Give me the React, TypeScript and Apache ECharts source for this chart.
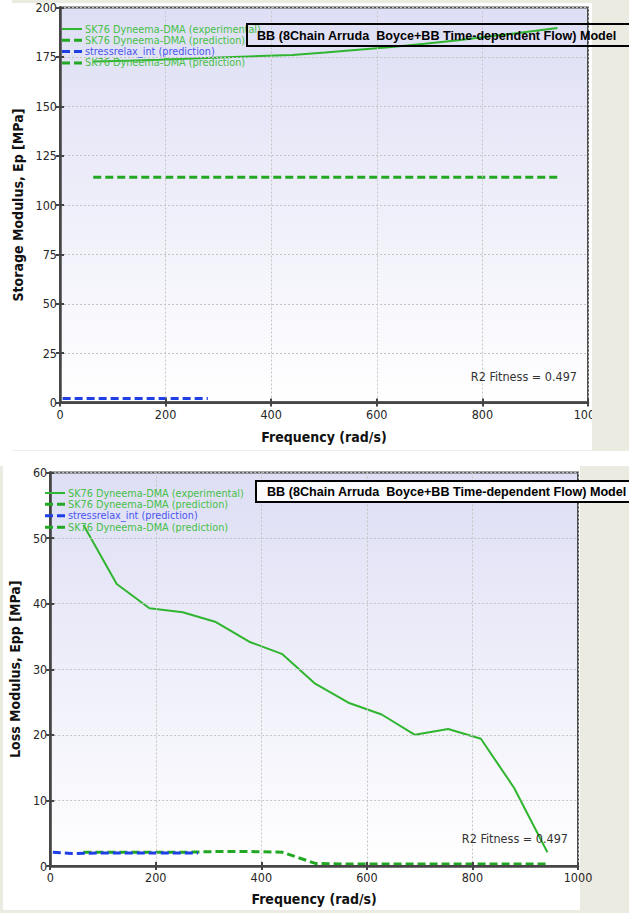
import React, { useEffect, useRef } from "react";
import * as echarts from "echarts";

// ---- data -------------------------------------------------------------
const frequency = [63, 126, 188, 251, 314, 377, 440, 502, 565, 628, 691, 754, 816, 879, 942];

const storageExperimental = [172.6, 173.1, 173.6, 174.2, 174.8, 175.4, 176.0, 177.2, 178.6, 180.0, 181.6, 183.4, 185.4, 187.5, 189.6];
const storagePrediction = [114, 114, 114, 114, 114, 114, 114, 114, 114, 114, 114, 114, 114, 114, 114];

const lossExperimental = [52.0, 43.0, 39.3, 38.7, 37.2, 34.2, 32.3, 27.8, 24.9, 23.1, 20.0, 20.9, 19.4, 11.9, 2.1];
const lossPrediction = [2.1, 2.1, 2.1, 2.1, 2.2, 2.2, 2.1, 0.4, 0.3, 0.3, 0.3, 0.3, 0.3, 0.3, 0.3];

const relaxFrequency = [5, 40, 100, 160, 220, 280];
const storageRelax = [2.0, 2.0, 2.0, 2.0, 2.0, 2.0];
const lossRelax = [2.1, 1.9, 2.0, 2.0, 2.0, 2.0];

const startFrequency = [0, 0];
const storageStart = [0, 4];
const lossStart = [0, 3];

const xTicks = { min: 0, max: 1000, interval: 200 };
const storageTicks = { min: 0, max: 200, interval: 25 };
const lossTicks = { min: 0, max: 60, interval: 10 };

const legendLabels = [
  "SK76 Dyneema-DMA (experimental)",
  "SK76 Dyneema-DMA (prediction)",
  "stressrelax_int (prediction)",
  "SK76 Dyneema-DMA (prediction)",
];
const modelTitle = "BB (8Chain Arruda\u00a0 Boyce+BB Time-dependent Flow) Model";
const fitnessLabel = "R2 Fitness = 0.497";
const xTitle = "Frequency (rad/s)";
const storageTitle = "Storage Modulus, Ep [MPa]";
const lossTitle = "Loss Modulus, Epp [MPa]";

// ---- styling ----------------------------------------------------------
const FONT = '"DejaVu Sans Condensed", "DejaVu Sans", sans-serif';
const TITLE_FONT = '"Liberation Sans", Arial, sans-serif';
const GREEN = "#2fb52f";
const GREEN_DASH = "#22a822";
const BLUE = "#1f3fe6";
const GREEN_TEXT = "#46c046";
const BLUE_TEXT = "#4a55ee";
const BEIGE = "#ecebe1";
const FRAME = "#4e4e4e";
const DASH = [8, 4];

const pairs = (xs: number[], ys: number[]) => xs.map((x, i) => [x, ys[i]]);

type Panel = {
  grid: { left: number; right: number; top: number; bottom: number };
  yTicks: { min: number; max: number; interval: number };
  yTitle: string;
  yNameGap: number;
  xNameGap: number;
  series: any[];
  legend: { x: number; rows: number[] };
  box: { x: number; y: number; h: number; textX: number; fill: string };
  fitness: { x: number; y: number };
  overlay: any[];
};

const legendStyles = [
  { color: GREEN, dash: null as number[] | null, text: GREEN_TEXT },
  { color: GREEN_DASH, dash: DASH, text: GREEN_TEXT },
  { color: BLUE, dash: DASH, text: BLUE_TEXT },
  { color: GREEN_DASH, dash: DASH, text: GREEN_TEXT },
];

function lineSeries(name: string, data: number[][], color: string, dashed: boolean, width = 2) {
  return {
    type: "line",
    name,
    data,
    xAxisIndex: 0,
    yAxisIndex: 0,
    showSymbol: false,
    symbol: "none",
    silent: true,
    lineStyle: { color, width, type: dashed ? DASH : "solid" },
    z: 5,
  };
}

function buildOption(p: Panel) {
  const tick = { show: true, inside: true, length: 4, lineStyle: { color: "#444", width: 2 } };
  const label = {
    show: true,
    color: "#262626",
    fontSize: 12.5,
    fontFamily: FONT,
    formatter: (v: number) => String(v),
  };
  const nameStyle = { color: "#111", fontSize: 14, fontWeight: "bold", fontFamily: FONT };
  const grid = { show: true, lineStyle: { color: "#c4c4c4", width: 1, type: [2, 2] } };
  const mirrorAxis = {
    type: "value",
    axisLine: { show: true, lineStyle: { color: FRAME, width: 2 } },
    axisTick: tick,
    axisLabel: { show: false },
    splitLine: { show: false },
    z: 8,
  };

  const legendGraphics: any[] = [];
  p.legend.rows.forEach((y, i) => {
    const s = legendStyles[i];
    legendGraphics.push({
      type: "line",
      z: 50,
      shape: { x1: p.legend.x, y1: y, x2: p.legend.x + 20, y2: y },
      style: { stroke: s.color, lineWidth: s.dash ? 3 : 2, lineDash: s.dash || undefined },
    });
    legendGraphics.push({
      type: "text",
      z: 50,
      x: p.legend.x + 23,
      y,
      style: {
        text: legendLabels[i],
        fill: s.text,
        font: `10.8px ${FONT}`,
        verticalAlign: "middle",
        align: "left",
      },
    });
  });

  return {
    animation: false,
    backgroundColor: "transparent",
    grid: {
      ...p.grid,
      show: true,
      borderColor: FRAME,
      borderWidth: 2,
      backgroundColor: {
        type: "linear",
        x: 0,
        y: 0,
        x2: 0,
        y2: 1,
        colorStops: [
          { offset: 0, color: "#dedef5" },
          { offset: 1, color: "#ffffff" },
        ],
      },
    },
    xAxis: [
      {
        type: "value",
        ...xTicks,
        position: "bottom",
        name: xTitle,
        nameLocation: "middle",
        nameGap: p.xNameGap,
        nameTextStyle: nameStyle,
        axisLine: { show: true, lineStyle: { color: "#454545", width: 2.5 } },
        axisTick: tick,
        axisLabel: { ...label, margin: 5 },
        splitLine: grid,
        z: 9,
      },
      { ...mirrorAxis, ...xTicks, position: "top" },
    ],
    yAxis: [
      {
        type: "value",
        ...p.yTicks,
        position: "left",
        name: p.yTitle,
        nameLocation: "middle",
        nameGap: p.yNameGap,
        nameTextStyle: nameStyle,
        axisLine: { show: true, lineStyle: { color: "#454545", width: 2.5 } },
        axisTick: tick,
        axisLabel: { ...label, margin: 3 },
        splitLine: grid,
        z: 9,
      },
      { ...mirrorAxis, ...p.yTicks, position: "right" },
    ],
    series: p.series,
    graphic: [
      ...p.overlay,
      ...legendGraphics,
      {
        type: "rect",
        zlevel: 1,
        z: 60,
        shape: { x: p.box.x, y: p.box.y, width: 420, height: p.box.h },
        style: { fill: p.box.fill, stroke: "#000", lineWidth: 2 },
      },
      {
        type: "text",
        zlevel: 1,
        z: 61,
        x: p.box.textX,
        y: p.box.y + p.box.h / 2 + 0.5,
        style: {
          text: modelTitle,
          fill: "#000",
          font: `bold 12.6px ${TITLE_FONT}`,
          verticalAlign: "middle",
          align: "left",
        },
      },
      {
        type: "text",
        z: 55,
        x: p.fitness.x,
        y: p.fitness.y,
        style: {
          text: fitnessLabel,
          fill: "#333",
          font: `12.5px ${FONT}`,
          verticalAlign: "middle",
          align: "right",
        },
      },
    ],
  };
}

const storagePanel: Panel = {
  grid: { left: 60, right: 41, top: 7.5, bottom: 48.5 },
  yTicks: storageTicks,
  yTitle: storageTitle,
  yNameGap: 32,
  xNameGap: 27,
  series: [
    lineSeries(legendLabels[0], pairs(frequency, storageExperimental), GREEN, false),
    lineSeries(legendLabels[1], pairs(frequency, storagePrediction), GREEN_DASH, true, 3),
    lineSeries(legendLabels[2], pairs(relaxFrequency, storageRelax), BLUE, true, 3),
    lineSeries(legendLabels[0], pairs(startFrequency, storageStart), GREEN, false),
  ],
  legend: { x: 62, rows: [29, 40.3, 51.6, 62.9] },
  box: { x: 247, y: 24, h: 22, textX: 257, fill: "transparent" },
  fitness: { x: 577, y: 376 },
  overlay: [
    // window frame strips that sit above the plot and its labels
    { type: "rect", zlevel: 1, z: 40, shape: { x: 592, y: 0, width: 40, height: 451 }, style: { fill: BEIGE } },
    { type: "rect", zlevel: 1, z: 40, shape: { x: 12, y: 0, width: 620, height: 3 }, style: { fill: BEIGE } },
    { type: "rect", zlevel: 1, z: 40, shape: { x: 12, y: 450, width: 580, height: 1 }, style: { fill: "#efefea" } },
  ],
};

const lossPanel: Panel = {
  grid: { left: 43, right: 51, top: 5, bottom: 47 },
  yTicks: lossTicks,
  yTitle: lossTitle,
  yNameGap: 24,
  xNameGap: 26,
  series: [
    lineSeries(legendLabels[0], pairs(frequency, lossExperimental), GREEN, false),
    lineSeries(legendLabels[1], pairs(frequency, lossPrediction), GREEN_DASH, true, 3),
    lineSeries(legendLabels[2], pairs(relaxFrequency, lossRelax), BLUE, true, 3),
    lineSeries(legendLabels[0], pairs(startFrequency, lossStart), GREEN, false),
  ],
  legend: { x: 45, rows: [27, 38.3, 49.8, 61.3] },
  box: { x: 256, y: 15, h: 21, textX: 267, fill: "#fbfbfe" },
  fitness: { x: 568, y: 372 },
  overlay: [],
};

function Chart({ option, style }: { option: any; style: React.CSSProperties }) {
  const ref = useRef<HTMLDivElement>(null);
  useEffect(() => {
    if (!ref.current) return;
    const chart = echarts.init(ref.current, undefined, { renderer: "svg" });
    chart.setOption(option);
    return () => chart.dispose();
  }, [option]);
  return <div ref={ref} style={{ position: "absolute", ...style }} />;
}

const storageOption = buildOption(storagePanel);
const lossOption = buildOption(lossPanel);

export default function App() {
  return (
    <div
      style={{
        position: "fixed",
        left: 0,
        top: 0,
        width: 629,
        height: 913,
        background: "#ffffff",
        overflow: "hidden",
      }}
    >
      {/* backdrop of the lower panel, behind its transparent chart */}
      <div style={{ position: "absolute", left: 580, top: 466, width: 49, height: 447, background: BEIGE }} />
      <div style={{ position: "absolute", left: 0, top: 466, width: 3, height: 447, background: BEIGE }} />
      <div style={{ position: "absolute", left: 0, top: 910, width: 629, height: 3, background: BEIGE }} />
      <Chart option={storageOption} style={{ left: 0, top: 0, width: 629, height: 451 }} />
      <Chart option={lossOption} style={{ left: 0, top: 466, width: 629, height: 447 }} />
    </div>
  );
}
